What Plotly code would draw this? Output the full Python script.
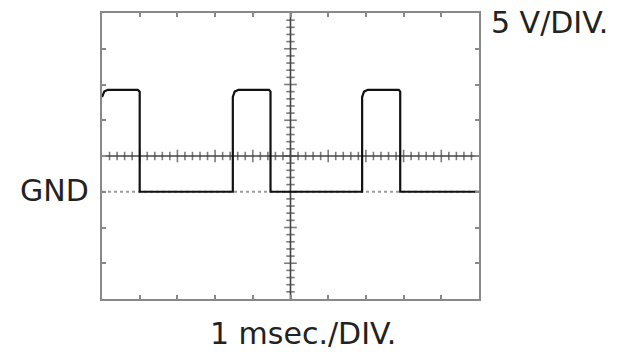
import plotly.graph_objects as go

# Waveform (time in divisions, level in divisions; center = 0, GND = -1)
trace_t = [0.0, 0.06, 0.15, 0.95, 1.0, 1.0, 3.47, 3.47, 3.52, 3.62, 4.43, 4.47, 4.47,
           6.9, 6.9, 6.95, 7.05, 7.87, 7.91, 7.91, 10.0]
trace_v = [1.65, 1.8, 1.85, 1.85, 1.8, -1.0, -1.0, 1.65, 1.8, 1.85, 1.85, 1.8, -1.0,
           -1.0, 1.65, 1.8, 1.85, 1.85, 1.8, -1.0, -1.0]
gnd_level = -1.0
x_divs = 10
y_divs = 8
v_label = "5 V/DIV."
t_label = "1 msec./DIV."
gnd_label = "GND"

fig = go.Figure()

# GND dashed reference
fig.add_trace(go.Scatter(x=[0, x_divs], y=[gnd_level, gnd_level], mode="lines",
                         line=dict(color="#9a9a9a", width=2, dash="dot"),
                         hoverinfo="skip", showlegend=False))

# center graticule lines
fig.add_trace(go.Scatter(x=[0, x_divs], y=[0, 0], mode="lines",
                         line=dict(color="#444444", width=1.6), showlegend=False))
fig.add_trace(go.Scatter(x=[x_divs / 2, x_divs / 2], y=[-y_divs / 2, y_divs / 2], mode="lines",
                         line=dict(color="#444444", width=1.6), showlegend=False))

# minor ticks on center lines
minor_x = [i * 0.2 for i in range(1, 50)]
minor_y = [-4 + i * 0.2 for i in range(1, 40)]
fig.add_trace(go.Scatter(x=minor_x, y=[0] * len(minor_x), mode="markers",
                         marker=dict(symbol="line-ns", size=[9 if abs(v - round(v)) < 1e-6 else 6 for v in minor_x],
                                     line=dict(color="#444444", width=1.6)),
                         showlegend=False))
fig.add_trace(go.Scatter(x=[x_divs / 2] * len(minor_y), y=minor_y, mode="markers",
                         marker=dict(symbol="line-ew", size=[9 if abs(v - round(v)) < 1e-6 else 6 for v in minor_y],
                                     line=dict(color="#444444", width=1.6)),
                         showlegend=False))

# signal trace
fig.add_trace(go.Scatter(x=trace_t, y=trace_v, mode="lines",
                         line=dict(color="#111111", width=2.2), showlegend=False))

fig.update_xaxes(range=[0, x_divs], dtick=1, showgrid=False, zeroline=False,
                 showline=True, linecolor="#888888", linewidth=2, mirror="ticks",
                 ticks="inside", ticklen=4, tickcolor="#888888", tickwidth=1.5,
                 showticklabels=False)
fig.update_yaxes(range=[-y_divs / 2, y_divs / 2], dtick=1, showgrid=False, zeroline=False,
                 showline=True, linecolor="#888888", linewidth=2, mirror="ticks",
                 ticks="inside", ticklen=4, tickcolor="#888888", tickwidth=1.5,
                 showticklabels=False)

font = dict(family="DejaVu Sans", size=30, color="#222222")
fig.add_annotation(text=v_label, xref="paper", yref="paper", x=1.027, y=0.968,
                   xanchor="left", yanchor="middle", showarrow=False, font=font)
fig.add_annotation(text=gnd_label, xref="paper", yref="paper", x=-0.03, y=0.381,
                   xanchor="right", yanchor="middle", showarrow=False, font=font)
fig.add_annotation(text=t_label, xref="paper", yref="paper", x=0.534, y=-0.122,
                   xanchor="center", yanchor="middle", showarrow=False, font=font)

fig.update_layout(width=625, height=352, margin=dict(l=102, r=146, t=13, b=53),
                  plot_bgcolor="white", paper_bgcolor="white")

fig.write_html("out.html")
